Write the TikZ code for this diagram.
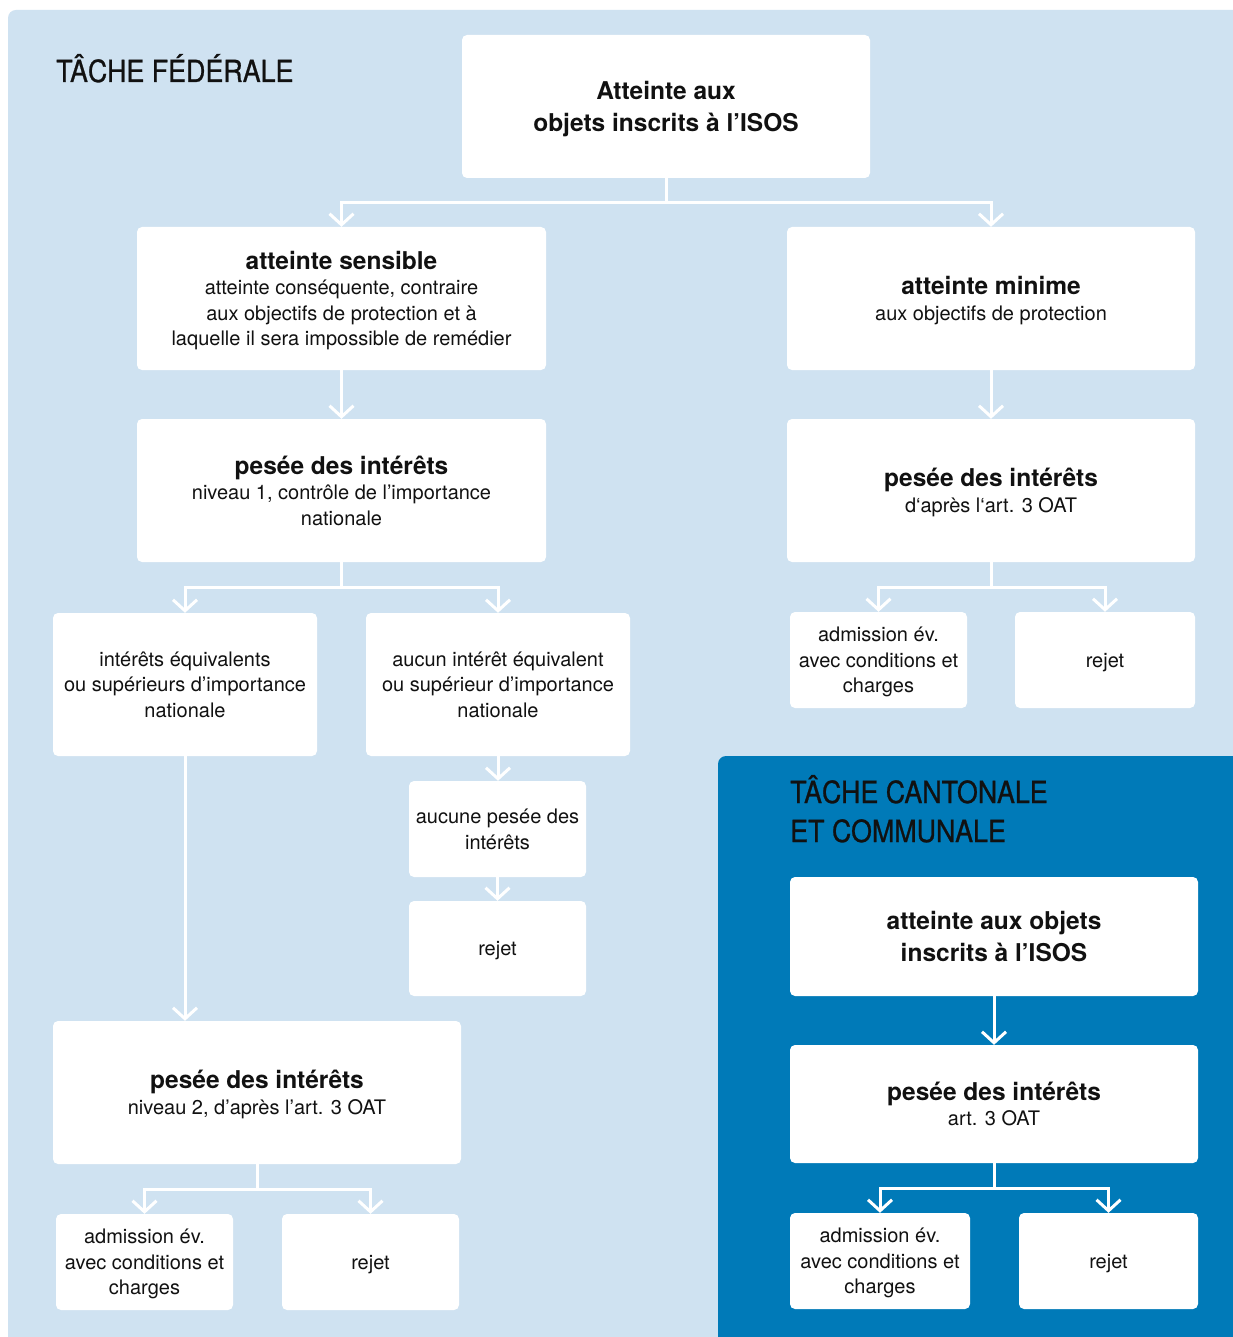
\documentclass[tikz,border=0pt]{standalone}
\usepackage{fontspec}
\setmainfont{TeX Gyre Heros}
\newfontfamily\headfont[FakeStretch=0.88,FakeBold=0.8]{TeX Gyre Heros}
\usetikzlibrary{arrows.meta}
\definecolor{lightbg}{HTML}{CFE2F1}
\definecolor{darkbg}{HTML}{007AB8}
\definecolor{ink}{HTML}{111111}
\newcommand\ttl[1]{{\fontsize{24.5}{32}\selectfont\bfseries #1}}
\tikzset{
  box/.style={fill=white, rounded corners=5pt, inner sep=0pt, align=center,
    text=ink, text depth=0pt, font=\fontsize{20}{25.5}\selectfont},
  conn/.style={draw=white, line width=3pt},
  arr/.style={conn, -{Straight Barb[length=11pt,width=24pt]}},
  head/.style={anchor=base west, inner sep=0pt, text=ink, font=\headfont\fontsize{30.5}{39}\selectfont}
}
\begin{document}
\begin{tikzpicture}[x=1pt,y=-1pt]
\useasboundingbox (0,0) rectangle (1232,1337);
\fill[white] (0,0) rectangle (1232,1337);
\fill[lightbg, rounded corners=8pt] (8,10) rectangle (1250,1360);
\fill[darkbg, rounded corners=8pt] (718,756) rectangle (1250,1360);

\node[head] (hfed) at (56,82) {TÂCHE FÉDÉRALE};
\node[head] (hcan1) at (790,803) {TÂCHE CANTONALE};
\node[head] (hcan2) at (790,842) {ET COMMUNALE};

\node[box, minimum width=408pt, minimum height=143pt] (top) at (666,106.5)
  {\ttl{Atteinte aux}\\[6.5pt] \ttl{objets inscrits à l’ISOS}};
\node[box, minimum width=409pt, minimum height=143pt] (sens) at (341.5,298.5)
  {\ttl{atteinte sensible}\\ atteinte conséquente, contraire\\ aux objectifs de protection et à\\ laquelle il sera impossible de remédier};
\node[box, minimum width=408pt, minimum height=143pt] (min) at (991,298.5)
  {\ttl{atteinte minime}\\ aux objectifs de protection};
\node[box, minimum width=409pt, minimum height=143pt] (p1) at (341.5,490.5)
  {\ttl{pesée des intérêts}\\ niveau 1, contrôle de l’importance\\ nationale};
\node[box, minimum width=408pt, minimum height=143pt] (pm) at (991,490.5)
  {\ttl{pesée des intérêts}\\ d‘après l‘art. 3 OAT};
\node[box, minimum width=264pt, minimum height=143pt] (eq) at (185,684.5)
  {intérêts équivalents\\ ou supérieurs d’importance\\ nationale};
\node[box, minimum width=264pt, minimum height=143pt] (auc) at (498,684.5)
  {aucun intérêt équivalent\\ ou supérieur d’importance\\ nationale};
\node[box, minimum width=177pt, minimum height=96pt] (admR) at (878.5,660)
  {admission év.\\ avec conditions et\\ charges};
\node[box, minimum width=180pt, minimum height=96pt] (rejR) at (1105,660) {rejet};
\node[box, minimum width=177pt, minimum height=96pt] (aucp) at (497.5,829)
  {aucune pesée des\\ intérêts};
\node[box, minimum width=177pt, minimum height=95pt] (rejM) at (497.5,948.5) {rejet};
\node[box, minimum width=408pt, minimum height=143pt] (p2) at (257,1092.5)
  {\ttl{pesée des intérêts}\\ niveau 2, d’après l’art. 3 OAT};
\node[box, minimum width=177pt, minimum height=96pt] (admL) at (144.5,1262)
  {admission év.\\ avec conditions et\\ charges};
\node[box, minimum width=177pt, minimum height=96pt] (rejL) at (370.5,1262) {rejet};
\node[box, minimum width=408pt, minimum height=119pt] (cT) at (994,936.5)
  {\ttl{atteinte aux objets}\\[6.5pt] \ttl{inscrits à l’ISOS}};
\node[box, minimum width=408pt, minimum height=118pt] (cP) at (994,1104)
  {\ttl{pesée des intérêts}\\ art. 3 OAT};
\node[box, minimum width=180pt, minimum height=96pt] (cA) at (880,1261)
  {admission év.\\ avec conditions et\\ charges};
\node[box, minimum width=179pt, minimum height=96pt] (cR) at (1108.5,1261) {rejet};

% connectors
\draw[conn] (top.south) -- ++(0,24) coordinate (j1);
\draw[arr] (j1) -| (sens.north);
\draw[arr] (j1) -| (min.north);
\draw[arr] (sens.south) -- (p1.north);
\draw[arr] (min.south) -- (pm.north);
\draw[conn] (p1.south) -- ++(0,25) coordinate (j2);
\draw[arr] (j2) -| (eq.north);
\draw[arr] (j2) -| (auc.north);
\draw[conn] (pm.south) -- ++(0,25) coordinate (j3);
\draw[arr] (j3) -| (admR.north);
\draw[arr] (j3) -| (rejR.north);
\draw[arr] (auc.south) -- (auc.south |- aucp.north);
\draw[arr] (aucp.south) -- (rejM.north);
\draw[arr] (eq.south) -- (eq.south |- p2.north);
\draw[conn] (p2.south) -- ++(0,25) coordinate (j4);
\draw[arr] (j4) -| (admL.north);
\draw[arr] (j4) -| (rejL.north);
\draw[arr] (cT.south) -- (cP.north);
\draw[conn] (cP.south) -- ++(0,25) coordinate (j5);
\draw[arr] (j5) -| (cA.north);
\draw[arr] (j5) -| (cR.north);
\end{tikzpicture}
\end{document}
